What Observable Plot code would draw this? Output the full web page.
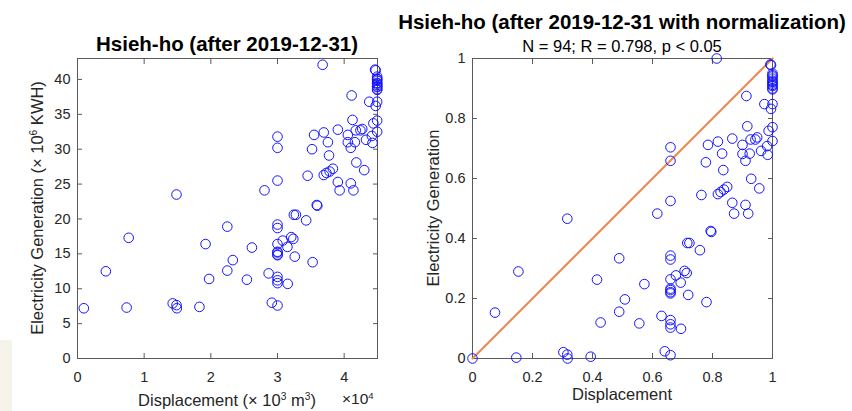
<!DOCTYPE html>
<html>
<head>
<meta charset="utf-8">
<script src="https://cdn.jsdelivr.net/npm/d3@7"></script>
<script src="https://cdn.jsdelivr.net/npm/@observablehq/plot@0.6"></script>
<style>
  body { margin: 0; background: #ffffff; }
  #wrap { position: relative; width: 852px; height: 411px; overflow: hidden;
          font-family: "Liberation Sans", Arial, Helvetica, sans-serif; color: #262626; }
  .abs { position: absolute; white-space: nowrap; line-height: 1; }
  .title { font-weight: bold; font-size: 20.5px; color: #000; transform: translateX(-50%); }
  .sub { font-size: 16.5px; transform: translateX(-50%); color: #000; }
  .xlab { font-size: 16.5px; transform: translateX(-50%); }
  .ylab { font-size: 16.5px; transform: translate(-50%, -50%) rotate(-90deg); }
  .sup { font-size: 0.62em; position: relative; top: -0.55em; }
  .plotbox { position: absolute; top: 0; }
  #strip { position: absolute; left: 0; top: 340px; width: 12px; height: 71px; background: #f6f4ea; }
</style>
</head>
<body>
<div id="wrap">
  <div id="strip"></div>
  <div id="leftPlot" class="plotbox" style="left:0px"></div>
  <div id="rightPlot" class="plotbox" style="left:426px"></div>

  <div class="abs title" style="left:227px; top:34px;">Hsieh-ho (after 2019-12-31)</div>
  <div class="abs title" style="left:622px; top:12px;">Hsieh-ho (after 2019-12-31 with normalization)</div>
  <div class="abs sub" style="left:622px; top:38px;">N = 94; R = 0.798, p &lt; 0.05</div>

  <div class="abs xlab" style="left:227px; top:392px;">Displacement (× 10<span class="sup">3</span> m<span class="sup">3</span>)</div>
  <div class="abs" style="left:342px; top:391px; font-size:15.5px;">×10<span class="sup">4</span></div>
  <div class="abs xlab" style="left:622px; top:386px;">Displacement</div>

  <div class="abs ylab" style="left:37px; top:208px;">Electricity Generation (× 10<span class="sup">6</span> KWH)</div>
  <div class="abs ylab" style="left:433px; top:208px;">Electricity Generation</div>
</div>

<script>
// ---------- Data ----------
// Left panel: raw values. Displacement in (×10^3 m^3), Electricity Generation in (×10^6 KWH)
const displacement = [
  950, 4250, 7370, 7680, 14280, 14850, 14900, 14850, 18290, 19210,
  19740, 22470, 22470, 23300, 25410, 26160, 28050, 28670, 29150,
  30000, 30000, 30000, 30000, 30000, 30000, 30000, 30000, 30000, 30000, 30000, 30000, 30000, 30000,
  30780, 31490, 31530, 32060, 32370, 32450, 32760, 32590, 34300, 34520,
  35180, 35490, 35270, 35890, 35970, 36770, 36940, 36940, 37560, 37730,
  37340, 37820, 38310, 39050, 39050, 39320, 40550, 40550, 40990, 40990,
  41120, 41250, 41390, 41610, 41740, 41830, 42440, 42710, 43010, 43280,
  43760, 44160, 44250, 44380, 44640, 44730, 44730, 44950, 44950, 44950,
  44950, 44950, 44950, 44950, 44950, 44950, 44950, 44950, 44950, 44950, 44950
];
const generation = [
  7.2, 12.5, 7.3, 17.3, 7.9, 7.65, 7.2, 23.5, 7.4, 16.4,
  11.4, 18.9, 12.6, 14.1, 11.3, 15.9, 24.1, 12.2, 8.0,
  31.8, 30.2, 25.5, 19.2, 18.7, 16.4, 15.3, 15.2, 14.9, 14.8, 11.7, 11.2, 10.8, 7.6,
  16.9, 16.0, 10.7, 17.4, 17.15, 20.6, 20.6, 14.6, 19.8, 26.2,
  30.0, 32.05, 13.8, 22.0, 21.9, 42.1, 32.4, 26.3, 31.0, 29.1,
  26.6, 26.8, 27.2, 32.8, 25.3, 24.1, 32.05, 31.0, 30.2, 25.1,
  37.7, 34.2, 24.1, 31.0, 32.7, 28.1, 32.7, 32.9, 27.0, 31.35,
  36.8, 31.9, 30.9, 33.7, 41.4, 41.3, 36.2, 36.8, 34.1, 32.5,
  40.4, 40.1, 40.0, 39.8, 39.5, 39.4, 39.2, 39.0, 38.9, 38.6, 38.5
];

// Right panel: normalized values
const displacementNorm = [
  0, 0.075, 0.146, 0.153, 0.303, 0.316, 0.317, 0.316, 0.394, 0.415,
  0.427, 0.489, 0.489, 0.508, 0.556, 0.573, 0.616, 0.63, 0.641,
  0.66, 0.66, 0.66, 0.66, 0.66, 0.66, 0.66, 0.66, 0.66, 0.66, 0.66, 0.66, 0.66, 0.66,
  0.678, 0.694, 0.695, 0.707, 0.714, 0.716, 0.723, 0.719, 0.758, 0.763,
  0.778, 0.785, 0.78, 0.794, 0.796, 0.814, 0.818, 0.818, 0.832, 0.836,
  0.827, 0.838, 0.849, 0.866, 0.866, 0.872, 0.9, 0.9, 0.91, 0.91,
  0.913, 0.916, 0.919, 0.924, 0.927, 0.929, 0.943, 0.949, 0.956, 0.962,
  0.973, 0.982, 0.984, 0.987, 0.993, 0.995, 0.995, 1, 1, 1,
  1, 1, 1, 1, 1, 1, 1, 1, 1, 1, 1
];
const generationNorm = [
  0, 0.153, 0.003, 0.29, 0.021, 0.013, 0, 0.466, 0.006, 0.263,
  0.12, 0.334, 0.156, 0.197, 0.117, 0.248, 0.483, 0.142, 0.024,
  0.704, 0.659, 0.525, 0.343, 0.33, 0.264, 0.233, 0.228, 0.221, 0.217, 0.128, 0.114, 0.103, 0.011,
  0.277, 0.253, 0.099, 0.292, 0.285, 0.385, 0.385, 0.212, 0.361, 0.545,
  0.654, 0.712, 0.188, 0.425, 0.422, 1, 0.723, 0.548, 0.683, 0.628,
  0.555, 0.563, 0.572, 0.733, 0.519, 0.483, 0.712, 0.682, 0.659, 0.512,
  0.875, 0.774, 0.483, 0.683, 0.73, 0.599, 0.73, 0.737, 0.567, 0.692,
  0.848, 0.708, 0.679, 0.759, 0.98, 0.978, 0.832, 0.848, 0.771, 0.725,
  0.95, 0.944, 0.94, 0.933, 0.926, 0.922, 0.917, 0.912, 0.908, 0.9, 0.897
];

// Reference line (y = x) on the normalized panel
const refLineX = [0, 1];
const refLineY = [0, 1];

// Ticks
const leftXTicks = [0, 10000, 20000, 30000, 40000];
const leftXTickLabels = ["0", "1", "2", "3", "4"];
const leftYTicks = [0, 5, 10, 15, 20, 25, 30, 35, 40];
const normTicks = [0, 0.2, 0.4, 0.6, 0.8, 1];
const normTickLabels = ["0", "0.2", "0.4", "0.6", "0.8", "1"];

// ---------- Build tables ----------
const leftData = displacement.map((d, i) => ({x: d, y: generation[i]}));
const rightData = displacementNorm.map((d, i) => ({x: d, y: generationNorm[i]}));
const refLine = refLineX.map((d, i) => ({x: d, y: refLineY[i]}));

const FONT = '"Liberation Sans", Arial, Helvetica, sans-serif';
const AXIS = "#5a5a5a";
const TEXT = "#262626";
const BLUE = "#1414ff";

function boxAxes(xt, yt, xfmt, yfmt) {
  return [
    Plot.frame({stroke: AXIS, strokeWidth: 1}),
    Plot.axisX(xt, {anchor: "bottom", tickSize: -5, tickFormat: () => "", label: null, stroke: AXIS}),
    Plot.axisX(xt, {anchor: "top", tickSize: -5, tickFormat: () => "", label: null, stroke: AXIS}),
    Plot.axisY(yt, {anchor: "left", tickSize: -5, tickFormat: () => "", label: null, stroke: AXIS}),
    Plot.axisY(yt, {anchor: "right", tickSize: -5, tickFormat: () => "", label: null, stroke: AXIS}),
    Plot.axisX(xt, {anchor: "bottom", tickSize: 0, tickPadding: 13, tickFormat: xfmt, label: null, fill: TEXT}),
    Plot.axisY(yt, {anchor: "left", tickSize: 0, tickPadding: 7, tickFormat: yfmt, label: null, fill: TEXT})
  ];
}

const left = Plot.plot({
  width: 390, height: 411,
  marginLeft: 77, marginRight: 13, marginTop: 58, marginBottom: 53,
  style: {fontFamily: FONT, fontSize: "14.5px", color: TEXT, background: "transparent", overflow: "visible"},
  x: {domain: [0, 45000], label: null},
  y: {domain: [0, 43], label: null},
  marks: [
    ...boxAxes(leftXTicks, leftYTicks,
      d => leftXTickLabels[leftXTicks.indexOf(d)],
      d => String(d)),
    Plot.dot(leftData, {x: "x", y: "y", r: 4.8, stroke: BLUE, strokeWidth: 1, fill: "none"})
  ]
});
document.getElementById("leftPlot").appendChild(left);

const right = Plot.plot({
  width: 426, height: 411,
  marginLeft: 46, marginRight: 80, marginTop: 58, marginBottom: 53,
  style: {fontFamily: FONT, fontSize: "14.5px", color: TEXT, background: "transparent", overflow: "visible"},
  x: {domain: [0, 1], label: null},
  y: {domain: [0, 1], label: null},
  marks: [
    ...boxAxes(normTicks, normTicks,
      d => normTickLabels[normTicks.indexOf(d)],
      d => normTickLabels[normTicks.indexOf(d)]),
    Plot.line(refLine, {x: "x", y: "y", stroke: "#ec8b58", strokeWidth: 2.2}),
    Plot.dot(rightData, {x: "x", y: "y", r: 4.8, stroke: BLUE, strokeWidth: 1, fill: "none"})
  ]
});
document.getElementById("rightPlot").appendChild(right);
</script>
</body>
</html>
